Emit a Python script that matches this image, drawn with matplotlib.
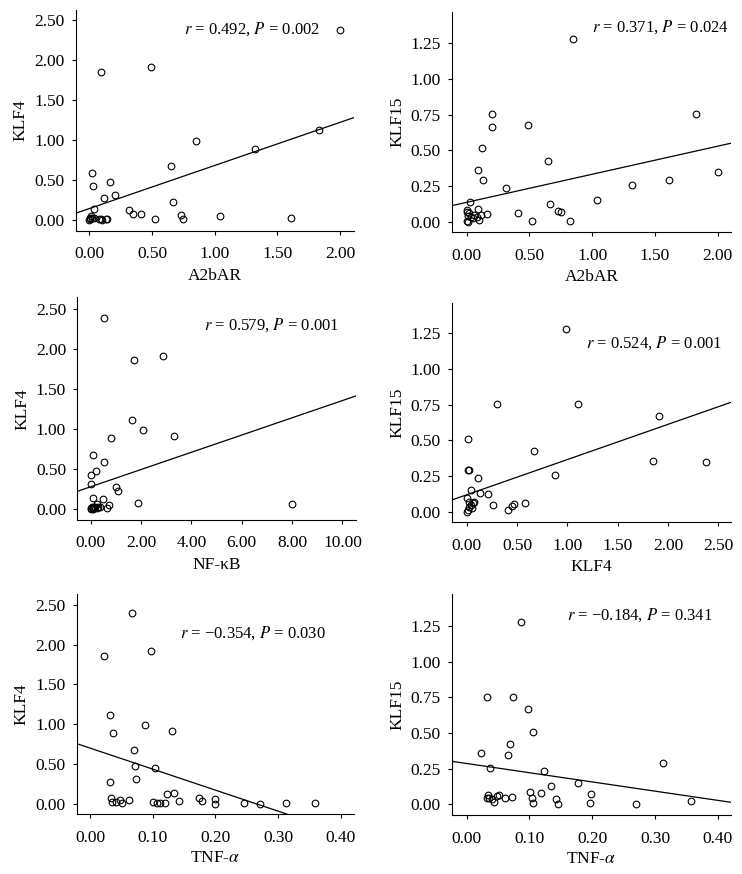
import numpy as np
import matplotlib
matplotlib.use("Agg")
import matplotlib.pyplot as plt

plt.rcParams['font.family'] = ['Liberation Serif', 'DejaVu Serif']
plt.rcParams['mathtext.fontset'] = 'stix'

# panel 1: A2bAR vs KLF4
p1_x = [2.0, 0.495, 0.096, 1.83, 1.32, 0.854, 0.649, 0.021, 0.027, 0.162, 0.207, 0.114,
        0.665, 0.035, 0.314, 0.349, 0.415, 0.732, 1.04, 0.524, 0.75, 1.61,
        0.0, 0.005, 0.01, 0.04, 0.075, 0.093, 0.1, 0.13, 0.14, 0.003, 0.02]
p1_y = [2.38, 1.91, 1.85, 1.12, 0.89, 0.99, 0.675, 0.59, 0.42, 0.47, 0.31, 0.27,
        0.22, 0.14, 0.12, 0.08, 0.075, 0.06, 0.046, 0.01, 0.01, 0.02,
        0.0, 0.03, 0.05, 0.025, 0.015, 0.01, 0.0, 0.01, 0.01, 0.01, 0.02]

# panel 2: A2bAR vs KLF15
p2_x = [0.85, 1.83, 0.205, 0.20, 0.49, 0.125, 0.648, 0.09, 0.13, 2.0, 1.61, 1.32,
        0.31, 0.03, 1.04, 0.66, 0.41, 0.73, 0.75, 0.523, 0.823, 0.162, 0.088,
        0.0, 0.01, 0.0, 0.013, 0.035, 0.06, 0.05, 0.096, 0.083, 0.114, 0.02, 0.005]
p2_y = [1.28, 0.755, 0.755, 0.66, 0.673, 0.514, 0.423, 0.36, 0.294, 0.346, 0.29, 0.255,
        0.234, 0.136, 0.152, 0.12, 0.063, 0.072, 0.065, 0.007, 0.007, 0.051, 0.089,
        0.07, 0.04, 0.002, 0.0, 0.035, 0.047, 0.023, 0.012, 0.03, 0.047, 0.058, 0.083]

# panel 3: NF-kB vs KLF4
p3_x = [0.52, 2.86, 1.72, 1.64, 2.07, 3.31, 0.79, 0.09, 0.54, 0.2, 0.01, 0.01,
        1.02, 1.09, 0.08, 0.48, 1.87, 8.0, 0.72, 0.65, 0.26,
        0.0, 0.05, 0.1, 0.17, 0.24, 0.37, 0.02, 0.08, 0.3, 0.14]
p3_y = [2.387, 1.915, 1.87, 1.12, 0.99, 0.91, 0.893, 0.68, 0.59, 0.47, 0.42, 0.313,
        0.27, 0.22, 0.142, 0.12, 0.08, 0.067, 0.05, 0.013, 0.063,
        0.01, 0.02, 0.01, 0.03, 0.01, 0.02, 0.0, 0.0, 0.03, 0.02]

# panel 4: KLF4 vs KLF15
p4_x = [0.987, 0.305, 1.11, 1.907, 0.01, 0.672, 1.848, 2.377, 0.013, 0.023, 0.881,
        0.116, 0.043, 0.136, 0.215, 0.265, 0.41, 0.447, 0.473, 0.583,
        0.007, 0.02, 0.06, 0.076, 0.043, 0.01, 0.0, 0.026, 0.053]
p4_y = [1.278, 0.755, 0.755, 0.67, 0.512, 0.423, 0.357, 0.346, 0.294, 0.292, 0.255,
        0.234, 0.152, 0.133, 0.121, 0.044, 0.012, 0.04, 0.054, 0.058,
        0.093, 0.07, 0.058, 0.07, 0.047, 0.012, 0.0, 0.035, 0.023]

# panel 5: TNF-alpha vs KLF4
p5_x = [0.067, 0.098, 0.022, 0.032, 0.087, 0.13, 0.037, 0.0697, 0.072, 0.103, 0.073,
        0.0324, 0.1346, 0.1234, 0.174, 0.199, 0.0335, 0.0617, 0.0479, 0.1426, 0.178,
        0.035, 0.0415, 0.0516, 0.1005, 0.106, 0.112, 0.119, 0.199, 0.246, 0.271,
        0.3128, 0.3585]
p5_y = [2.395, 1.925, 1.858, 1.12, 0.99, 0.91, 0.889, 0.675, 0.47, 0.449, 0.306,
        0.268, 0.138, 0.117, 0.0755, 0.063, 0.067, 0.05, 0.042, 0.0336, 0.038,
        0.021, 0.017, 0.013, 0.017, 0.013, 0.008, 0.013, 0.0, 0.004, 0.0,
        0.013, 0.008]

# panel 6: TNF-alpha vs KLF15
p6_x = [0.0871, 0.0319, 0.0738, 0.0977, 0.1062, 0.0696, 0.0223, 0.0664, 0.3123, 0.0367,
        0.1232, 0.1774, 0.1344, 0.101, 0.119, 0.198, 0.0335, 0.0478, 0.052, 0.0616,
        0.0728, 0.0319, 0.036, 0.0404, 0.043, 0.1036, 0.1057, 0.1418, 0.146, 0.197,
        0.27, 0.358]
p6_y = [1.276, 0.752, 0.752, 0.671, 0.509, 0.42, 0.357, 0.343, 0.292, 0.252,
        0.231, 0.15, 0.131, 0.086, 0.077, 0.07, 0.063, 0.058, 0.065, 0.042,
        0.049, 0.042, 0.042, 0.037, 0.014, 0.042, 0.007, 0.035, 0.005, 0.009,
        0.0, 0.023]

# fitted lines (intercept, slope)
fits = [(0.143, 0.539), (0.135, 0.1966), (0.278, 0.1079),
        (0.118, 0.247), (0.699, -2.645), (0.286, -0.6455)]
stats = [r'$r$ = 0.492, $P$ = 0.002', r'$r$ = 0.371, $P$ = 0.024',
         r'$r$ = 0.579, $P$ = 0.001', r'$r$ = 0.524, $P$ = 0.001',
         r'$r$ = −0.354, $P$ = 0.030', r'$r$ = −0.184, $P$ = 0.341']
xlabels = ['A2bAR', 'A2bAR', 'NF-κB', 'KLF4', r'TNF-$\alpha$', r'TNF-$\alpha$']
ylabels = ['KLF4', 'KLF15', 'KLF4', 'KLF15', 'KLF4', 'KLF15']

W, H = 742, 874
fig = plt.figure(figsize=(W / 100, H / 100), dpi=100)

# axes boxes in pixels: left, right, top, bottom
boxes = [(75.7, 354, 10, 230.7), (452, 731, 11.7, 232.3),
         (77.3, 356, 297.3, 520), (452, 731, 302.7, 522.3),
         (76.7, 354, 594, 814.3), (452, 731, 594, 815.3)]
xlims = [(-0.109, 2.11), (-0.117, 2.106), (-0.53, 10.54),
         (-0.146, 2.626), (-0.0213, 0.421), (-0.0234, 0.4212)]
ylims = [(-0.134, 2.625), (-0.075, 1.47), (-0.138, 2.65),
         (-0.075, 1.465), (-0.134, 2.638), (-0.077, 1.474)]
xticks = [np.arange(0, 2.01, 0.5), np.arange(0, 2.01, 0.5), np.arange(0, 10.1, 2),
          np.arange(0, 2.51, 0.5), np.arange(0, 0.41, 0.1), np.arange(0, 0.41, 0.1)]
yticks = [np.arange(0, 2.51, 0.5), np.arange(0, 1.26, 0.25)] * 3
text_pos = [(0.880, 0.913), (0.994, 0.929), (0.940, 0.876),
            (0.970, 0.818), (0.899, 0.822), (0.934, 0.905)]

data = [(p1_x, p1_y), (p2_x, p2_y), (p3_x, p3_y),
        (p4_x, p4_y), (p5_x, p5_y), (p6_x, p6_y)]

fs = 12.5
for i in range(6):
    l, r, t, b = boxes[i]
    ax = fig.add_axes([l / W, 1 - b / H, (r - l) / W, (b - t) / H])
    x, y = data[i]
    ax.plot(x, y, 'o', mfc='none', mec='black', ms=4.8, mew=0.8)
    a, k = fits[i]
    xx = np.array(xlims[i])
    ax.plot(xx, a + k * xx, color='black', lw=0.9)
    ax.set_xlim(xlims[i])
    ax.set_ylim(ylims[i])
    ax.set_xticks(xticks[i])
    ax.set_yticks(yticks[i])
    ax.set_xticklabels(['%.2f' % v for v in xticks[i]], fontsize=fs)
    ax.set_yticklabels(['%.2f' % v for v in yticks[i]], fontsize=fs)
    ax.spines['top'].set_visible(False)
    ax.spines['right'].set_visible(False)
    ax.tick_params(direction='out', length=3, width=0.8)
    ax.tick_params(axis='x', pad=8)
    ax.tick_params(axis='y', pad=5)
    ax.set_xlabel(xlabels[i], fontsize=fs, labelpad=4 if i < 4 else 3)
    ax.set_ylabel(ylabels[i], fontsize=fs, labelpad=4)
    ax.text(text_pos[i][0], text_pos[i][1], stats[i], transform=ax.transAxes,
            ha='right', va='center', fontsize=12)

fig.savefig('out.png', dpi=100)
